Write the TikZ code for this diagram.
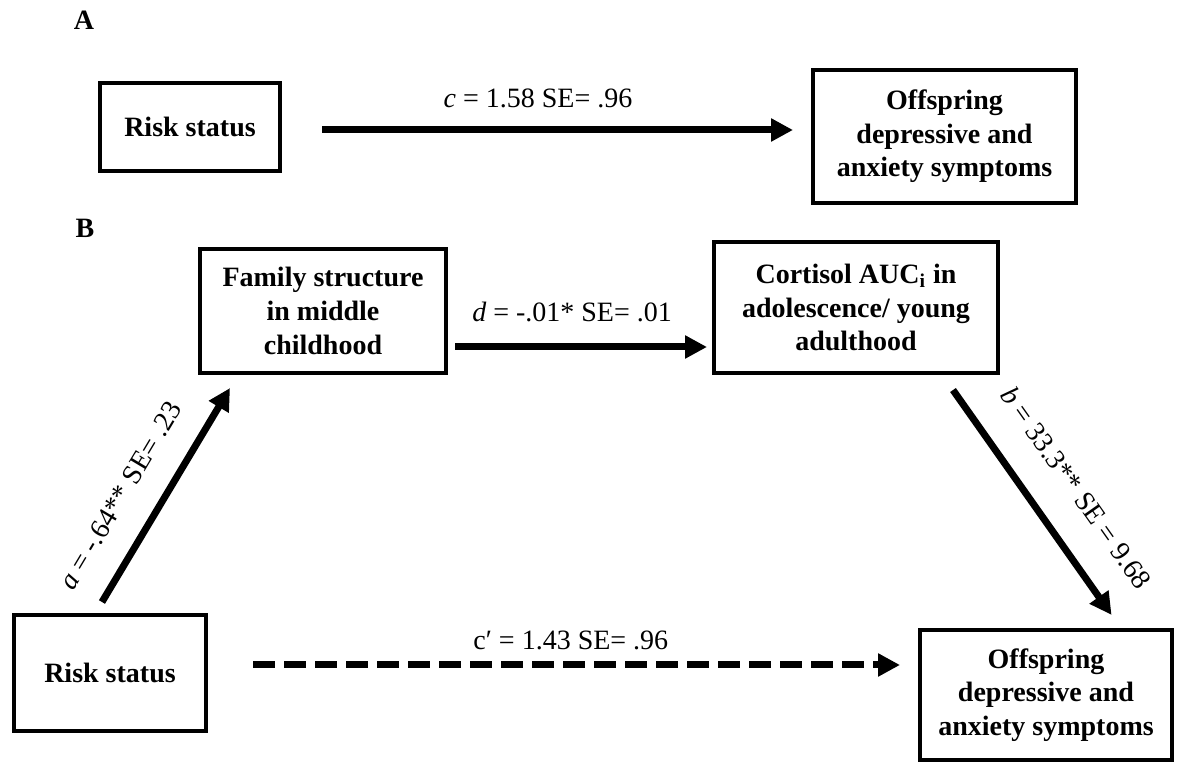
\documentclass[tikz,border=0pt]{standalone}
\usepackage{fontspec}
\setmainfont{Liberation Serif}
\usetikzlibrary{arrows.meta}
\begin{document}
\begin{tikzpicture}[x=0.5pt,y=-0.5pt,
  box/.style={draw, line width=2pt, align=center, font=\fontsize{14}{16.8}\selectfont\bfseries, inner sep=0pt, anchor=center},
  arr/.style={line width=3.5pt, -{Triangle[length=11pt,width=11pt]}},
  lab/.style={font=\fontsize{14}{16.8}\selectfont, inner sep=0pt},
  panel/.style={font=\fontsize{14}{16.8}\selectfont\bfseries, anchor=base, inner sep=0pt}]
\useasboundingbox (0,0) rectangle (1179,763);

% panel letters
\node[panel] (pA) at (84,30) {A};
\node[panel] (pB) at (85,238) {B};

% boxes
\node[box, minimum width=90pt, minimum height=44pt] (riskA) at (190,127) {Risk status};
\node[box, minimum width=131.5pt, minimum height=66.5pt] (offA) at (944.5,136.5) {Offspring\\depressive and\\anxiety symptoms};
\node[box, minimum width=123pt, minimum height=62pt] (famB) at (323,311) {Family structure\\in middle\\childhood};
\node[box, minimum width=142pt, minimum height=65.5pt] (cortB) at (856,307.5) {Cortisol AUC\textsubscript{i} in\\adolescence/ young\\adulthood};
\node[box, minimum width=96pt, minimum height=58pt] (riskB) at (110,673) {Risk status};
\node[box, minimum width=126pt, minimum height=65pt] (offB) at (1046,695) {Offspring\\depressive and\\anxiety symptoms};

% A: c path
\coordinate (cA) at ([yshift=-1.5pt]riskA.east);
\draw[arr, shorten <=20pt, shorten >=9pt] (cA) -- node[lab, pos=0.484, anchor=base, yshift=11pt] {\textit{c} = 1.58 SE= .96} (cA -| offA.west);

% B: d path
\coordinate (dS) at ([yshift=-18pt]famB.east);
\draw[arr, shorten <=3.5pt, shorten >=2.5pt] (dS) -- node[lab, pos=0.47, anchor=base, yshift=12.5pt] {\textit{d} = -.01* SE= .01} (dS -| cortB.west);

% B: c' path (dashed)
\coordinate (cpS) at ([yshift=4pt]riskB.east);
\draw[arr, dash pattern=on 11pt off 4.5pt, shorten <=22.5pt, shorten >=9pt] (cpS) -- node[lab, pos=0.511, anchor=base, yshift=7.5pt] {c′ = 1.43 SE= .96} (cpS -| offB.west);

% B: a path
\draw[arr, shorten <=6.4pt, shorten >=7.6pt] ([xshift=-7.3pt]riskB.north) -- node[lab, sloped, pos=0.41, above=13pt] {\textit{a} = -.64** SE= .23} ([xshift=19.9pt]famB.south west);

% B: b path
\draw[arr, shorten <=9.2pt, shorten >=8pt] ([xshift=43.2pt]cortB.south) -- node[lab, sloped, pos=0.547, above=15.4pt] {\textit{b} = 33.3** SE = 9.68} ([xshift=37.4pt]offB.north);
\end{tikzpicture}
\end{document}
